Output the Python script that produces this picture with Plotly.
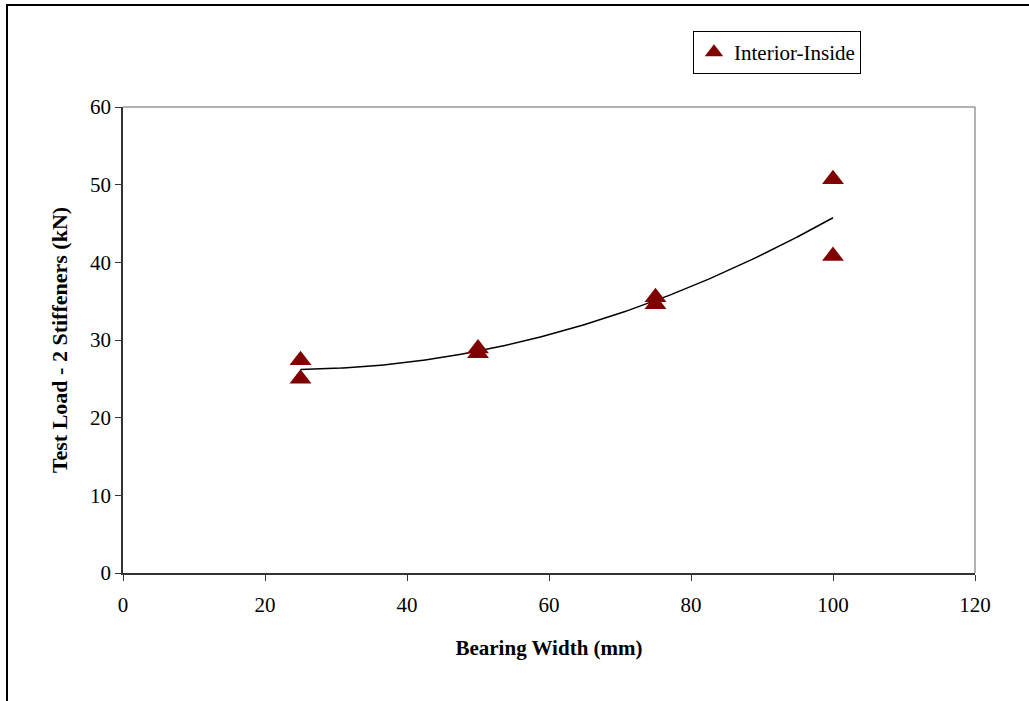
import numpy as np
import plotly.graph_objects as go

# Data
bearing_width = [25, 25, 50, 50, 75, 75, 100, 100]
test_load = [27.4, 25.0, 28.9, 28.3, 35.5, 34.6, 50.7, 40.8]
series_name = "Interior-Inside"

x_ticks = [0, 20, 40, 60, 80, 100, 120]
y_ticks = [0, 10, 20, 30, 40, 50, 60]

# Second-order polynomial trend line fitted to the data (as in the original)
coef = np.polyfit(bearing_width, test_load, 2)
trend_x = np.linspace(min(bearing_width), max(bearing_width), 200)
trend_y = np.polyval(coef, trend_x)

FONT = "Liberation Serif, Times New Roman, serif"

fig = go.Figure()
fig.add_trace(go.Scatter(
    x=trend_x, y=trend_y, mode="lines",
    line=dict(color="black", width=1.5),
    showlegend=False, hoverinfo="skip",
))
fig.add_trace(go.Scatter(
    x=bearing_width, y=test_load, mode="markers", name=series_name,
    marker=dict(symbol="triangle-up", size=19, color="#800000",
                line=dict(width=0)),
))

fig.update_layout(
    width=1029, height=701,
    margin=dict(l=123, r=54, t=107, b=128),
    paper_bgcolor="white", plot_bgcolor="white",
    font=dict(family=FONT, size=21, color="black"),
    showlegend=True,
    legend=dict(
        x=0.669, y=1.163, xanchor="left", yanchor="top",
        bgcolor="white", bordercolor="black", borderwidth=1,
        font=dict(family=FONT, size=21, color="black"),
        itemwidth=30, tracegroupgap=0,
    ),
    xaxis=dict(
        range=[0, 120], tickvals=x_ticks, ticktext=[str(v) for v in x_ticks],
        showgrid=False, zeroline=False,
        showline=True, linecolor="#333333", linewidth=1.5,
        ticks="outside", ticklen=6, tickcolor="#333333",
        ticklabelstandoff=6,
        tickfont=dict(family=FONT, size=21),
        title=dict(text="<b>Bearing Width (mm)</b>", standoff=24,
                   font=dict(family=FONT, size=21)),
    ),
    yaxis=dict(
        range=[0, 60], tickvals=y_ticks, ticktext=[str(v) for v in y_ticks],
        showgrid=False, zeroline=False,
        showline=True, linecolor="#333333", linewidth=1.5,
        ticks="outside", ticklen=6, tickcolor="#333333",
        tickfont=dict(family=FONT, size=21),
        title=dict(text="<b>Test Load - 2 Stiffeners (kN)</b>", standoff=16,
                   font=dict(family=FONT, size=22)),
    ),
    shapes=[
        # top and right border of plot area (gray)
        dict(type="line", xref="paper", yref="paper", x0=0, x1=1, y0=1, y1=1,
             line=dict(color="#999999", width=1.5)),
        dict(type="line", xref="paper", yref="paper", x0=1, x1=1, y0=0, y1=1,
             line=dict(color="#999999", width=1.5)),
        # outer chart frame
        dict(type="rect", xref="paper", yref="paper",
             x0=(7 - 123) / 852, x1=1.2, y0=-0.4, y1=(573 - 5) / 466,
             line=dict(color="black", width=2), fillcolor="rgba(0,0,0,0)",
             layer="below"),
    ],
)

fig.write_html("out.html")
